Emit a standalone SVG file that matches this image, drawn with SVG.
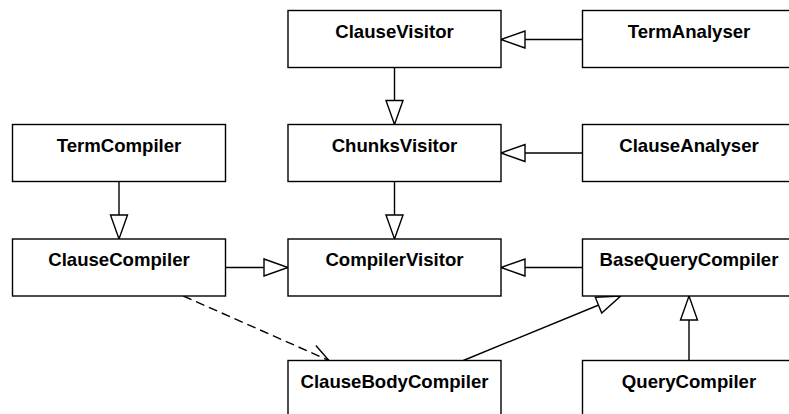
<svg xmlns="http://www.w3.org/2000/svg" width="789" height="414" viewBox="0 0 789 414">
  <style>
    .box { fill: #fff; stroke: #000; stroke-width: 1.4; }
    .label { font-family: "Liberation Sans", Arial, sans-serif; font-weight: bold; font-size: 18.6px; text-anchor: middle; fill: #000; }
    .edge { fill: none; stroke: #000; stroke-width: 1.4; }
    .inherit { marker-end: url(#hollow); }
    .depend { stroke-dasharray: 9 5; marker-end: url(#open); }
  </style>
  <defs>
    <!-- hollow triangle: generalization -->
    <marker id="hollow" viewBox="0 0 24 17" refX="24" refY="8.5" markerWidth="24" markerHeight="17" markerUnits="userSpaceOnUse" orient="auto" overflow="visible">
      <path d="M0,0 L24,8.5 L0,17 Z" fill="#fff" stroke="#000" stroke-width="1.4" stroke-linejoin="miter"/>
    </marker>
    <!-- open arrow: dependency -->
    <marker id="open" viewBox="0 0 18.1 16.9" refX="18.1" refY="8.45" markerWidth="18.1" markerHeight="16.9" markerUnits="userSpaceOnUse" orient="auto" overflow="visible">
      <path d="M0,0 L18.1,8.45 L0,16.9" fill="none" stroke="#000" stroke-width="1.4" stroke-dasharray="none"/>
    </marker>
  </defs>

  <g id="connectors">
    <path class="edge inherit" d="M582.5,39.5 H501"/>
    <path class="edge inherit" d="M394.5,67.5 V124.5"/>
    <path class="edge inherit" d="M582.5,153 H501"/>
    <path class="edge inherit" d="M394.5,181.5 V239"/>
    <path class="edge inherit" d="M119,181.5 V239"/>
    <path class="edge inherit" d="M225.5,267.5 H288"/>
    <path class="edge inherit" d="M582.5,267.5 H501"/>
    <path class="edge inherit" d="M689,360.5 V296"/>
    <path class="edge inherit" d="M463.3,360.5 L620.7,296"/>
    <path class="edge depend" d="M183.3,296 L329,360.5"/>
  </g>

  <g id="ClauseVisitor">
    <rect class="box" x="288" y="10.5" width="213" height="57"/>
    <text class="label" x="394.5" y="37.5">ClauseVisitor</text>
  </g>
  <g id="TermAnalyser">
    <rect class="box" x="582.5" y="10.5" width="213" height="57"/>
    <text class="label" x="689" y="37.5">TermAnalyser</text>
  </g>
  <g id="TermCompiler">
    <rect class="box" x="12.5" y="124.5" width="213" height="57"/>
    <text class="label" x="119" y="151.5">TermCompiler</text>
  </g>
  <g id="ChunksVisitor">
    <rect class="box" x="288" y="124.5" width="213" height="57"/>
    <text class="label" x="394.5" y="151.5">ChunksVisitor</text>
  </g>
  <g id="ClauseAnalyser">
    <rect class="box" x="582.5" y="124.5" width="213" height="57"/>
    <text class="label" x="689" y="151.5">ClauseAnalyser</text>
  </g>
  <g id="ClauseCompiler">
    <rect class="box" x="12.5" y="239" width="213" height="57"/>
    <text class="label" x="119" y="266">ClauseCompiler</text>
  </g>
  <g id="CompilerVisitor">
    <rect class="box" x="288" y="239" width="213" height="57"/>
    <text class="label" x="394.5" y="266">CompilerVisitor</text>
  </g>
  <g id="BaseQueryCompiler">
    <rect class="box" x="582.5" y="239" width="213" height="57"/>
    <text class="label" x="689" y="266">BaseQueryCompiler</text>
  </g>
  <g id="ClauseBodyCompiler">
    <rect class="box" x="288" y="360.5" width="213" height="57"/>
    <text class="label" x="394.5" y="387.5">ClauseBodyCompiler</text>
  </g>
  <g id="QueryCompiler">
    <rect class="box" x="582.5" y="360.5" width="213" height="57"/>
    <text class="label" x="689" y="387.5">QueryCompiler</text>
  </g>
</svg>
